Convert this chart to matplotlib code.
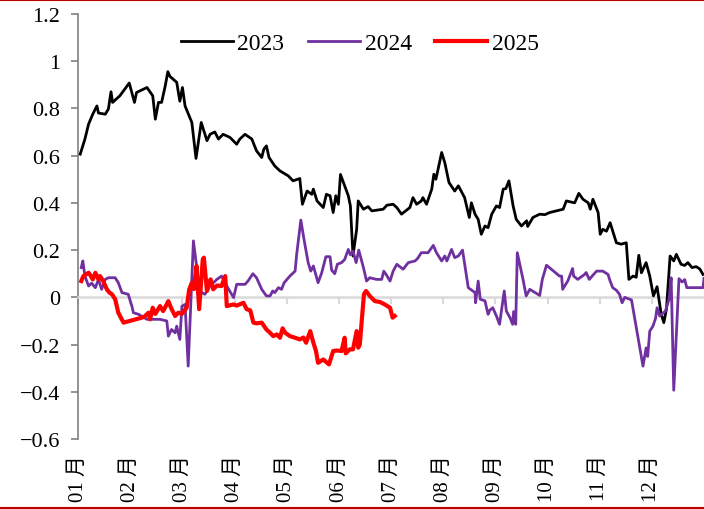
import matplotlib.pyplot as plt
from matplotlib.lines import Line2D
from matplotlib.ticker import FuncFormatter, MultipleLocator

plt.rcParams['font.family'] = ['Liberation Serif', 'Noto Sans CJK SC']

# x is position in months from 1 Jan (0 = start of Jan, 12 = end of Dec)
months = ['01 月', '02 月', '03 月', '04 月', '05 月', '06 月',
          '07 月', '08 月', '09 月', '10 月', '11 月', '12 月']

x2023 = [0.04, 0.13, 0.20, 0.28, 0.36, 0.39, 0.52, 0.58, 0.63, 0.66, 0.80, 0.98,
         1.08, 1.12, 1.32, 1.43, 1.48, 1.54, 1.60, 1.67, 1.72, 1.76, 1.89, 1.95,
         2.00, 2.05, 2.18, 2.26, 2.36, 2.47, 2.53, 2.62, 2.69, 2.78, 2.91, 3.04,
         3.10, 3.20, 3.33, 3.42, 3.52, 3.56, 3.61, 3.66, 3.77, 3.87, 4.03, 4.12,
         4.25, 4.30, 4.39, 4.48, 4.51, 4.58, 4.70, 4.76, 4.83, 4.89, 4.94, 4.99,
         5.03, 5.11, 5.18, 5.22, 5.27, 5.34, 5.37, 5.47, 5.56, 5.63, 5.85, 5.92,
         6.04, 6.11, 6.20, 6.36, 6.42, 6.49, 6.58, 6.61, 6.68, 6.78, 6.82, 6.86,
         6.97, 7.03, 7.11, 7.22, 7.29, 7.41, 7.50, 7.54, 7.61, 7.67, 7.73, 7.80,
         7.86, 7.93, 8.02, 8.08, 8.15, 8.20, 8.26, 8.34, 8.40, 8.50, 8.60, 8.62,
         8.72, 8.85, 8.95, 9.04, 9.30, 9.36, 9.52, 9.60, 9.68, 9.78, 9.82, 9.87,
         9.97, 10.01, 10.06, 10.13, 10.20, 10.32, 10.41, 10.51, 10.56, 10.64, 10.70, 10.75,
         10.80, 10.89, 10.96, 11.03, 11.10, 11.18, 11.23, 11.28, 11.35, 11.42, 11.47, 11.56,
         11.63, 11.69, 11.77, 11.85, 11.92, 11.98]
y2023 = [0.606, 0.67, 0.733, 0.775, 0.81, 0.78, 0.775, 0.797, 0.87, 0.825, 0.853, 0.907,
         0.825, 0.867, 0.888, 0.853, 0.754, 0.825, 0.825, 0.895, 0.955, 0.935, 0.91, 0.83,
         0.888, 0.81, 0.74, 0.588, 0.74, 0.663, 0.69, 0.70, 0.67, 0.69, 0.677, 0.648,
         0.67, 0.69, 0.67, 0.62, 0.592, 0.627, 0.641, 0.592, 0.556, 0.535, 0.514, 0.493,
         0.503, 0.394, 0.45, 0.436, 0.458, 0.408, 0.38, 0.436, 0.43, 0.359, 0.43, 0.394,
         0.52, 0.472, 0.43, 0.387, 0.175, 0.288, 0.408, 0.373, 0.384, 0.366, 0.373, 0.39,
         0.394, 0.38, 0.352, 0.38, 0.422, 0.394, 0.408, 0.422, 0.394, 0.458, 0.521, 0.50,
         0.613, 0.57, 0.486, 0.45, 0.472, 0.422, 0.338, 0.40, 0.352, 0.33, 0.267, 0.302,
         0.295, 0.352, 0.387, 0.38, 0.458, 0.46, 0.493, 0.387, 0.33, 0.302, 0.324, 0.30,
         0.338, 0.352, 0.35, 0.359, 0.373, 0.408, 0.40, 0.44, 0.415, 0.40, 0.373, 0.415,
         0.359, 0.267, 0.288, 0.28, 0.316, 0.231, 0.225, 0.231, 0.076, 0.09, 0.085, 0.178,
         0.104, 0.147, 0.09, 0.006, 0.045, -0.072, -0.107, -0.05, 0.175, 0.154, 0.182, 0.14,
         0.135, 0.147, 0.126, 0.13, 0.12, 0.097]

x2024 = [0.06, 0.09, 0.13, 0.20, 0.26, 0.33, 0.39, 0.45, 0.52, 0.58, 0.71, 0.77,
         0.84, 0.96, 1.03, 1.06, 1.16, 1.22, 1.32, 1.57, 1.70, 1.73, 1.79, 1.86,
         1.89, 1.95, 1.99, 2.05, 2.11, 2.21, 2.27, 2.30, 2.37, 2.43, 2.53, 2.66,
         2.75, 2.85, 2.98, 3.04, 3.20, 3.26, 3.35, 3.42, 3.52, 3.61, 3.68, 3.73,
         3.77, 3.84, 3.90, 3.95, 4.06, 4.16, 4.19, 4.27, 4.33, 4.41, 4.46, 4.51,
         4.60, 4.67, 4.75, 4.83, 4.86, 4.92, 4.97, 5.05, 5.11, 5.18, 5.22, 5.27,
         5.33, 5.38, 5.47, 5.53, 5.59, 5.72, 5.82, 5.86, 5.91, 5.98, 6.04, 6.11,
         6.23, 6.33, 6.46, 6.51, 6.58, 6.71, 6.81, 6.87, 6.97, 7.03, 7.07, 7.16,
         7.22, 7.29, 7.37, 7.48, 7.61, 7.62, 7.67, 7.71, 7.80, 7.86, 7.89, 7.95,
         8.02, 8.08, 8.17, 8.21, 8.28, 8.33, 8.35, 8.39, 8.42, 8.53, 8.59, 8.66,
         8.85, 8.90, 8.98, 9.23, 9.27, 9.29, 9.39, 9.48, 9.50, 9.58, 9.71, 9.74,
         9.80, 9.94, 10.06, 10.16, 10.20, 10.25, 10.32, 10.38, 10.43, 10.48, 10.61, 10.83,
         10.89, 10.92, 10.96, 11.02, 11.07, 11.10, 11.15, 11.26, 11.33, 11.37, 11.42, 11.52,
         11.58, 11.63, 11.67, 11.98, 12.0]
y2024 = [0.126, 0.154, 0.09, 0.048, 0.06, 0.041, 0.076, 0.034, 0.076, 0.083, 0.083, 0.062,
         0.02, 0.013, -0.037, -0.065, -0.072, -0.08, -0.093, -0.093, -0.10, -0.164, -0.136, -0.15,
         -0.122, -0.178, -0.037, -0.03, -0.291, 0.239, 0.133, 0.05, 0.02, 0.013, 0.048, 0.076,
         0.09, 0.048, -0.001, 0.055, 0.055, 0.07, 0.10, 0.083, 0.034, 0.006, 0.006, 0.027,
         0.02, 0.041, 0.034, 0.062, 0.09, 0.111, 0.182, 0.327, 0.246, 0.147, 0.111, 0.133,
         0.062, 0.104, 0.172, 0.172, 0.115, 0.10, 0.14, 0.147, 0.16, 0.203, 0.18, 0.196,
         0.147, 0.20, 0.126, 0.069, 0.083, 0.076, 0.076, 0.111, 0.095, 0.069, 0.111, 0.14,
         0.119, 0.147, 0.154, 0.165, 0.189, 0.189, 0.22, 0.189, 0.154, 0.175, 0.154, 0.203,
         0.168, 0.175, 0.20, 0.041, 0.02, -0.023, 0.069, -0.008, -0.015, -0.072, -0.055, -0.044,
         -0.079, -0.114, 0.027, -0.058, -0.086, -0.114, -0.06, -0.114, 0.189, 0.076, 0.006, 0.034,
         0.008, 0.076, 0.136, 0.09, 0.09, 0.034, 0.07, 0.122, 0.09, 0.076, 0.097, 0.105,
         0.076, 0.111, 0.111, 0.097, 0.069, 0.041, 0.03, 0.013, -0.023, 0.0, -0.011, -0.291,
         -0.214, -0.25, -0.143, -0.122, -0.09, -0.044, -0.079, -0.058, -0.008, 0.083, -0.393, 0.079,
         0.065, 0.075, 0.041, 0.041, 0.08]

x2025 = [0.06, 0.10, 0.20, 0.23, 0.28, 0.33, 0.39, 0.42, 0.48, 0.55, 0.60, 0.65,
         0.71, 0.77, 0.87, 1.22, 1.28, 1.35, 1.38, 1.43, 1.48, 1.57, 1.63, 1.73,
         1.78, 1.86, 1.92, 1.99, 2.08, 2.13, 2.18, 2.22, 2.27, 2.32, 2.39, 2.41,
         2.47, 2.52, 2.54, 2.59, 2.66, 2.75, 2.82, 2.85, 2.98, 3.04, 3.17, 3.23,
         3.30, 3.36, 3.42, 3.52, 3.61, 3.68, 3.74, 3.81, 3.87, 3.92, 3.97, 4.06,
         4.16, 4.25, 4.32, 4.37, 4.45, 4.51, 4.56, 4.60, 4.70, 4.81, 4.89, 4.96,
         5.05, 5.11, 5.13, 5.21, 5.27, 5.34, 5.37, 5.40, 5.48, 5.52, 5.59, 5.69,
         5.79, 5.88, 5.98, 6.03, 6.07]
y2025 = [0.069, 0.09, 0.104, 0.095, 0.076, 0.104, 0.076, 0.09, 0.069, 0.034, 0.02, 0.013,
         -0.008, -0.065, -0.107, -0.086, -0.08, -0.065, -0.093, -0.044, -0.07, -0.037, -0.058, -0.016,
         -0.044, -0.079, -0.065, -0.07, -0.044, 0.034, 0.062, 0.035, 0.133, -0.05, 0.161, 0.168,
         0.027, 0.069, 0.076, 0.034, 0.05, 0.048, 0.09, -0.037, -0.03, -0.035, -0.023, -0.05,
         -0.055, -0.107, -0.11, -0.107, -0.136, -0.15, -0.164, -0.157, -0.171, -0.131, -0.15, -0.164,
         -0.171, -0.178, -0.17, -0.192, -0.143, -0.192, -0.227, -0.277, -0.263, -0.284, -0.227, -0.225,
         -0.227, -0.171, -0.237, -0.22, -0.22, -0.143, -0.213, -0.2, 0.013, 0.027, 0.006, -0.016,
         -0.02, -0.03, -0.044, -0.086, -0.079]

fig = plt.figure(figsize=(7.04, 5.10), dpi=100)
ax = fig.add_axes([0.111, 0.137, 0.889, 0.834])

ax.plot(x2023, y2023, color='black', lw=2.0, label='2023', zorder=3)
ax.plot(x2024, y2024, color='#7030A0', lw=2.0, label='2024', zorder=3)
ax.plot(x2025, y2025, color='#FF0000', lw=3.0, label='2025', zorder=4)

ax.set_xlim(0, 12)
ax.set_ylim(-0.6, 1.2)
ax.yaxis.set_major_locator(MultipleLocator(0.2))
ax.yaxis.set_major_formatter(FuncFormatter(
    lambda v, p: '{:g}'.format(round(v, 1)).replace('-', '\u2212')))

ax.spines['top'].set_visible(False)
ax.spines['right'].set_visible(False)
ax.spines['left'].set_color('#808080')
ax.spines['left'].set_linewidth(1.2)
ax.spines['bottom'].set_position(('data', 0))
ax.spines['bottom'].set_color('#D9D9D9')
ax.spines['bottom'].set_linewidth(1.8)

ax.tick_params(axis='y', direction='out', length=5, width=1.2, color='#808080',
               labelsize=16, pad=8)
ax.set_xticks(range(12))
ax.tick_params(axis='x', direction='out', length=5, width=1.5, color='#D9D9D9',
               labelbottom=False)

# month labels sit below the plot, not at the zero axis
for i, m in enumerate(months):
    ax.text(i, -0.035, m, transform=ax.get_xaxis_transform(), rotation=90,
            ha='center', va='top', fontsize=15)

ax.legend(loc='upper center', bbox_to_anchor=(0.45, 1.006), ncol=3, frameon=False,
          fontsize=17, handlelength=2.2, handletextpad=0.2, columnspacing=1.0)

# thin dark red rules at the top and bottom edge of the picture
fig.add_artist(Line2D([0, 1], [0.998, 0.998], color='#C00000', lw=1.5))
fig.add_artist(Line2D([0, 1], [0.002, 0.002], color='#C00000', lw=1.5))

plt.savefig('out.png', dpi=100)
